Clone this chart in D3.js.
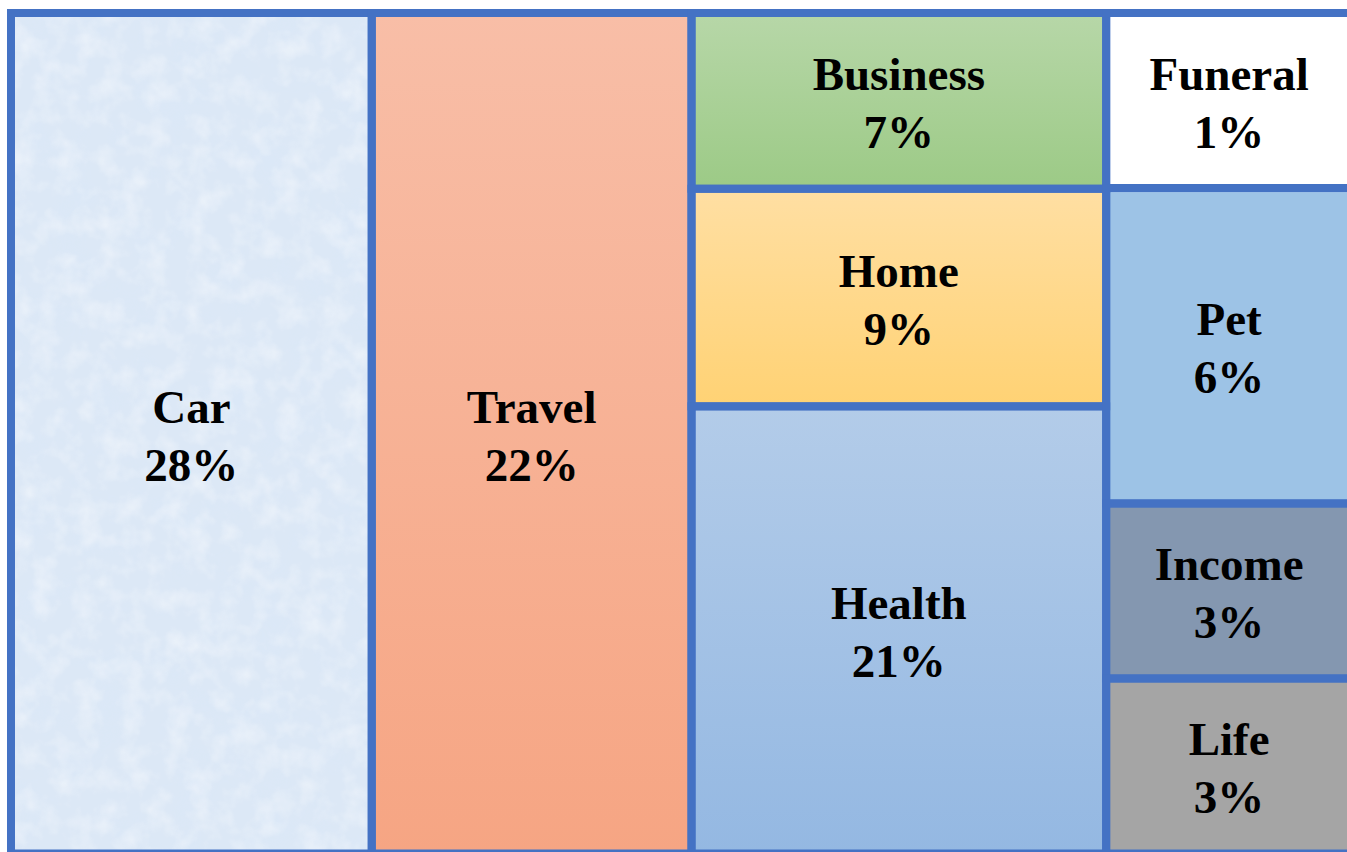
<!DOCTYPE html>
<html>
<head>
<meta charset="utf-8">
<script src="https://cdn.jsdelivr.net/npm/d3@7"></script>
<style>
  html, body { margin: 0; padding: 0; background: #fff; }
  svg { display: block; }
</style>
</head>
<body>
<div id="chart"></div>
<script>
// -- data -------------------------------------------------------------
const categories = ['Car', 'Travel', 'Business', 'Home', 'Health', 'Funeral', 'Pet', 'Income', 'Life'];
const shares     = [28, 22, 7, 9, 21, 1, 6, 3, 3];
const columnOf   = [0, 1, 2, 2, 2, 3, 3, 3, 3];

// -- style -------------------------------------------------------------
const W = 1347, H = 852;
const border = '#4472c4';
const fills = {
  Car:      '#dce8f6',
  Travel:   'url(#g-travel)',
  Business: 'url(#g-business)',
  Home:     'url(#g-home)',
  Health:   'url(#g-health)',
  Funeral:  '#ffffff',
  Pet:      '#9dc3e6',
  Income:   '#8497b0',
  Life:     '#a5a5a5'
};
const gradients = [
  ['g-travel',   '#f8bea7', '#f6a583'],
  ['g-business', '#b7d7a8', '#9cca86'],
  ['g-home',     '#ffdfa3', '#ffd274'],
  ['g-health',   '#b3cce9', '#94b8e2']
];
const minWeight = 3;      // small tiles keep room for their label
const tileExp   = 0.85;   // soften the height differences inside a column

const svg = d3.select('#chart').append('svg')
  .attr('width', W).attr('height', H);

const defs = svg.append('defs');
gradients.forEach(([id, c0, c1]) => {
  const lg = defs.append('linearGradient').attr('id', id)
    .attr('x1', 0).attr('y1', 0).attr('x2', 0).attr('y2', 1);
  lg.append('stop').attr('offset', '0%').attr('stop-color', c0);
  lg.append('stop').attr('offset', '100%').attr('stop-color', c1);
});

// frosted texture for the Car tile: soft white mottling + faint blue blotches
const frost = defs.append('filter').attr('id', 'frost')
  .attr('x', 0).attr('y', 0).attr('width', 1).attr('height', 1);
frost.append('feTurbulence')
  .attr('type', 'fractalNoise').attr('baseFrequency', 0.045)
  .attr('numOctaves', 3).attr('seed', 3).attr('result', 'n1');
frost.append('feColorMatrix').attr('in', 'n1').attr('type', 'matrix')
  .attr('values', '0 0 0 0 1  0 0 0 0 1  0 0 0 0 1  1.8 0 0 0 -0.75')
  .attr('result', 'white');
frost.append('feTurbulence')
  .attr('type', 'fractalNoise').attr('baseFrequency', 0.025)
  .attr('numOctaves', 2).attr('seed', 11).attr('result', 'n2');
frost.append('feColorMatrix').attr('in', 'n2').attr('type', 'matrix')
  .attr('values', '0 0 0 0 0.70  0 0 0 0 0.81  0 0 0 0 0.95  0 2.0 0 0 -0.95')
  .attr('result', 'blue');
const merge = frost.append('feMerge');
merge.append('feMergeNode').attr('in', 'blue');
merge.append('feMergeNode').attr('in', 'white');

// -- layout -------------------------------------------------------------
const columns = d3.groups(
    categories.map((name, i) => ({ name, share: shares[i], col: columnOf[i] })),
    d => d.col)
  .map(([col, items]) => ({ name: 'col' + col, children: items }));

const root = d3.hierarchy({ name: 'root', children: columns })
  .sum(d => d.children ? 0 : Math.pow(Math.max(d.share, minWeight), tileExp));

// columns side by side (width ~ sqrt of the column's total share),
// tiles stacked inside each column
function tile(node, x0, y0, x1, y1) {
  if (node.depth === 0) {
    const w = node.children.map(c => Math.sqrt(d3.sum(c.leaves(), l => l.data.share)));
    const x = d3.scaleLinear().domain([0, d3.sum(w)]).range([x0, x1]);
    let acc = 0;
    node.children.forEach((c, i) => {
      c.x0 = x(acc); acc += w[i]; c.x1 = x(acc);
      c.y0 = y0; c.y1 = y1;
    });
  } else {
    d3.treemapSlice(node, x0, y0, x1, y1);
  }
}

const box = { left: 11, top: 13, right: 1352, bottom: 853.5 };
d3.treemap().tile(tile)
  .size([box.right - box.left, box.bottom - box.top]).round(false)(root);

const g = svg.append('g').attr('transform', `translate(${box.left},${box.top})`);
const leaves = root.leaves();

g.selectAll('rect.fill').data(leaves).join('rect').attr('class', 'fill')
  .attr('x', d => d.x0).attr('y', d => d.y0)
  .attr('width', d => d.x1 - d.x0).attr('height', d => d.y1 - d.y0)
  .attr('fill', d => fills[d.data.name]);

const carLeaf = leaves.find(d => d.data.name === 'Car');
g.append('rect')
  .attr('x', carLeaf.x0).attr('y', carLeaf.y0)
  .attr('width', carLeaf.x1 - carLeaf.x0).attr('height', carLeaf.y1 - carLeaf.y0)
  .attr('fill', '#fff').attr('filter', 'url(#frost)').attr('opacity', 0.45);

// borders on top
g.selectAll('rect.edge').data(leaves).join('rect').attr('class', 'edge')
  .attr('x', d => d.x0).attr('y', d => d.y0)
  .attr('width', d => d.x1 - d.x0).attr('height', d => d.y1 - d.y0)
  .attr('fill', 'none').attr('stroke', border).attr('stroke-width', 8);

// labels
const label = g.selectAll('text.lbl').data(leaves).join('text').attr('class', 'lbl')
  .attr('x', d => (d.x0 + d.x1) / 2)
  .attr('y', d => (d.y0 + d.y1) / 2 - 10.5)
  .attr('text-anchor', 'middle')
  .style('font-family', '"Liberation Serif", "Times New Roman", serif')
  .style('font-weight', 'bold')
  .style('font-size', '47px')
  .attr('fill', '#000');
label.append('tspan').text(d => d.data.name);
label.append('tspan')
  .attr('x', d => (d.x0 + d.x1) / 2).attr('dy', 58)
  .text(d => d.data.share + '%');
</script>
</body>
</html>
